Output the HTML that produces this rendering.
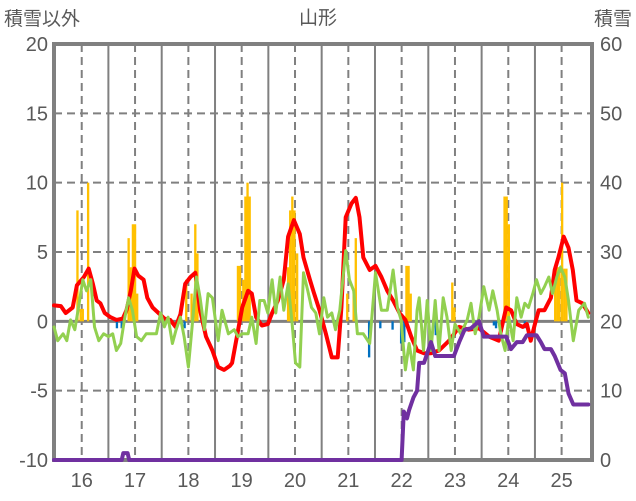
<!DOCTYPE html>
<html><head><meta charset="utf-8"><style>
html,body{margin:0;padding:0;background:#fff;}
svg{display:block;font-family:"Liberation Sans","Noto Sans CJK JP",sans-serif;}
</style></head><body>
<svg id="chart" width="636" height="501" viewBox="0 0 636 501" xmlns="http://www.w3.org/2000/svg">
<rect x="0" y="0" width="636" height="501" fill="#fff"/>
<text x="318" y="24" font-size="19" fill="#595959" text-anchor="middle">山形</text>
<text x="4" y="25" font-size="19" fill="#595959">積雪以外</text>
<text x="632" y="25" font-size="19" fill="#595959" text-anchor="end">積雪</text>
<g id="grid"></g>
<g id="bars"></g>
<g id="frame"></g>
<g id="lines"></g>
<g id="ticks"></g>
</svg>
<script>
const dayLabels=[16,17,18,19,20,21,22,23,24,25];
const leftTicks=[20,15,10,5,0,-5,-10];
const rightTicks=[60,50,40,30,20,10,0];

const redT=[15.48,15.61,15.70,15.83,15.91,16.04,16.13,16.21,16.28,16.35,16.43,16.54,16.65,16.77,16.84,16.92,16.99,17.06,17.16,17.23,17.33,17.44,17.55,17.66,17.76,17.85,17.94,18.04,18.13,18.22,18.33,18.45,18.56,18.67,18.78,18.82,18.91,19.01,19.12,19.19,19.27,19.38,19.49,19.57,19.68,19.79,19.87,19.98,20.09,20.16,20.28,20.35,20.46,20.58,20.69,20.80,20.87,20.95,21.06,21.14,21.21,21.28,21.40,21.51,21.62,21.73,21.84,21.96,22.07,22.18,22.29,22.42,22.55,22.70,22.89,23.08,23.26,23.45,23.64,23.82,23.96,24.05,24.16,24.27,24.35,24.42,24.50,24.57,24.68,24.80,24.87,24.94,25.04,25.13,25.21,25.28,25.39,25.50];
const redV=[1.15,1.1,0.6,1.0,2.6,3.2,3.8,2.7,1.5,1.3,0.6,0.3,0.1,0.2,0.8,2.2,3.8,3.3,3.0,1.7,1.0,0.6,0.2,0.1,-0.4,0.5,2.7,3.2,3.5,0.8,-1.1,-2.1,-3.3,-3.5,-3.2,-3.0,-1.1,1.0,2.2,2.0,0.3,-0.3,-0.2,0.6,1.5,3.0,6.1,7.3,6.3,4.6,3.0,2.1,0.8,-0.9,-2.6,-2.6,1.0,7.5,8.5,8.9,7.5,4.6,3.7,4.0,3.2,2.2,1.5,0.6,0.1,-1.1,-2.1,-2.3,-2.3,-2.1,-1.4,-0.4,-0.6,-0.5,-1.1,-1.4,1.0,0.8,-0.2,-0.4,-0.2,-1.4,-0.2,0.8,0.8,1.7,3.7,4.6,6.1,5.3,3.7,1.5,1.3,0.6];

const greenT=[15.48,15.55,15.65,15.72,15.79,15.87,15.94,16.02,16.09,16.17,16.24,16.32,16.41,16.50,16.58,16.65,16.73,16.80,16.88,16.95,17.03,17.12,17.21,17.29,17.40,17.48,17.55,17.62,17.70,17.77,17.85,17.92,18.00,18.07,18.15,18.22,18.30,18.37,18.45,18.56,18.63,18.75,18.86,18.93,19.01,19.12,19.19,19.27,19.34,19.42,19.49,19.57,19.64,19.72,19.79,19.87,19.94,20.01,20.09,20.16,20.24,20.31,20.39,20.46,20.54,20.61,20.69,20.76,20.84,20.95,21.02,21.10,21.17,21.28,21.40,21.51,21.62,21.73,21.84,21.92,21.99,22.07,22.14,22.22,22.29,22.33,22.41,22.48,22.55,22.63,22.70,22.78,22.85,22.93,23.00,23.11,23.23,23.30,23.38,23.45,23.54,23.64,23.71,23.79,23.86,23.94,24.01,24.09,24.16,24.24,24.31,24.38,24.46,24.53,24.61,24.68,24.76,24.83,24.91,24.98,25.06,25.13,25.22,25.32,25.43,25.50];
const greenV=[-0.4,-1.4,-0.9,-1.4,0.1,-0.6,1.0,3.0,2.2,3.0,-0.4,-1.4,-0.9,-1.1,-0.9,-2.1,-1.6,0.1,1.7,0.8,-1.1,-1.4,-0.9,-0.9,-0.9,0.6,-0.4,0.3,-1.6,-0.6,0.3,-1.1,-3.3,-0.4,3.2,1.7,-0.6,2.0,1.7,-1.4,0.8,-0.9,-0.6,-1.1,-0.9,-0.9,0.3,-1.6,1.5,1.5,0.6,3.0,0.6,3.2,0.8,2.7,0.1,-3.0,-3.3,3.5,2.2,1.0,0.6,-0.9,1.7,0.3,0.6,-0.6,0.8,5.1,3.0,2.2,-0.9,-0.9,-1.6,3.5,0.8,0.8,3.7,1.0,0.1,-3.5,-1.6,-3.5,0.8,1.7,-2.1,1.5,-2.1,1.5,-2.1,1.7,0.3,-2.1,-0.2,-0.9,0.1,1.3,-0.9,0.3,2.5,0.8,2.2,0.8,-0.9,-2.1,0.3,-1.4,1.7,0.3,1.3,1.0,2.0,3.0,2.0,2.5,3.2,2.0,3.2,3.9,3.2,1.5,-1.4,0.8,1.3,0.3];

const snowT=[15.48,16.75,16.78,16.86,16.89,22.00,22.04,22.10,22.14,22.22,22.29,22.33,22.42,22.55,22.63,22.74,22.98,23.08,23.18,23.30,23.45,23.54,23.65,23.96,24.05,24.16,24.27,24.35,24.53,24.61,24.68,24.80,24.87,24.98,25.06,25.13,25.22,25.50];
const snowV=[0,0,1,1,0,0,7,6,7.2,9,10,14,14,17,15,15,15,17,18.8,19,20,17.8,17.8,17.8,16,17,17,18,18,17,16,16,15,13,12.5,9.6,8,8];

const barT=[15.92,15.98,16.02,16.12,16.88,16.92,16.96,17.00,17.04,17.96,18.06,18.13,18.17,18.93,18.97,19.03,19.07,19.11,19.15,19.87,19.91,19.95,19.99,20.04,20.98,21.10,21.14,22.09,22.13,22.17,22.95,22.99,23.93,23.97,24.01,24.88,24.92,24.96,25.01,25.05,25.09];
const barV=[8,0.9,0.9,10,6,3.9,7,7,2.0,3.0,2.0,7,4.9,4,4,3,9,10,9,3.9,8,9,8,4.9,2,2,6,4,4,2,2.8,1.0,9,9,7,3.9,3.9,3.9,10,3.8,3.8];
const negT=[16.66,16.75,17.93,21.39,21.60,21.83,21.99,22.05,22.64,23.40,23.73,23.77,24.31];
const negV=[-0.5,-0.5,-0.5,-2.6,-0.5,-0.6,-1.6,-1.5,-1.0,-0.4,-0.3,-0.5,-0.5];

const L=54,R=592,T=44,B=460;
const d0=15.48,d1=25.57;
function xS(d){return L+(d-d0)/(d1-d0)*(R-L);}
function yL(v){return B-(v+10)/30*(B-T);}
function yR(v){return B-v/60*(B-T);}
const NS='http://www.w3.org/2000/svg';
function mk(tag,attrs,parent){const e=document.createElementNS(NS,tag);for(const k in attrs)e.setAttribute(k,attrs[k]);parent.appendChild(e);return e;}
const grid=document.getElementById('grid'),bars=document.getElementById('bars'),lines=document.getElementById('lines'),frame=document.getElementById('frame'),ticks=document.getElementById('ticks');

leftTicks.forEach(v=>{
  if(v===20||v===-10)return;
  const y=yL(v);
  const g=mk('line',{x1:L,x2:R,y1:y,y2:y,stroke:'#808080','stroke-width':v===0?3:2,'stroke-dasharray':v===0?'none':'8,5'},grid);
  
  
});
dayLabels.forEach(d=>{
  const x=xS(d);
  const g=mk('line',{x1:x,x2:x,y1:T,y2:B,stroke:'#808080','stroke-width':2,'stroke-dasharray':'8,5'},grid);
  
  
  if(d<25){const xm=xS(d+0.5);
  const s=mk('line',{x1:xm,x2:xm,y1:T,y2:B,stroke:'#808080','stroke-width':2},grid);
  
  }
});

const bw=(R-L)/(d1-d0)/24*1.05;
barT.forEach((d,i)=>{
  const y=yL(barV[i]),y0=yL(0);
  const r=mk('rect',{x:xS(d)-bw/2,y:y,width:bw,height:y0-y,fill:'#FFC000'},bars);
  
  
});
negT.forEach((d,i)=>{
  const y0=yL(0),y=yL(negV[i]);
  const r=mk('rect',{x:xS(d)-bw/2,y:y0,width:bw,height:y-y0,fill:'#0070C0'},bars);
  
  
});
function path(ts,vs,ys,color,w,name){
  const d=ts.map((t,i)=>(i?'L':'M')+xS(t).toFixed(1)+','+ys(vs[i]).toFixed(1)).join('');
  const p=mk('path',{d:d,fill:'none',stroke:color,'stroke-width':w,'stroke-linejoin':'round','stroke-linecap':'round'},lines);
  
  
}
path(redT,redV,yL,'#FF0000',4,'temperature-line');
path(greenT,greenV,yL,'#92D050',3,'green-series-line');
path(snowT,snowV,yR,'#7030A0',4,'snow-depth-line');

const fr=mk('rect',{x:L,y:T,width:R-L,height:B-T,fill:'none',stroke:'#808080','stroke-width':4},frame);



leftTicks.forEach(v=>{
  const t=mk('text',{x:48,y:yL(v)+7,'font-size':20,fill:'#595959','text-anchor':'end'},ticks);
  t.textContent=v;
  
  
});
rightTicks.forEach(v=>{
  const t=mk('text',{x:600,y:yR(v)+7,'font-size':20,fill:'#595959'},ticks);
  t.textContent=v;
  
  
});
dayLabels.forEach(d=>{
  const t=mk('text',{x:xS(d),y:487,'font-size':20,fill:'#595959','text-anchor':'middle'},ticks);
  t.textContent=d;
  
  
});
</script>
</body></html>
